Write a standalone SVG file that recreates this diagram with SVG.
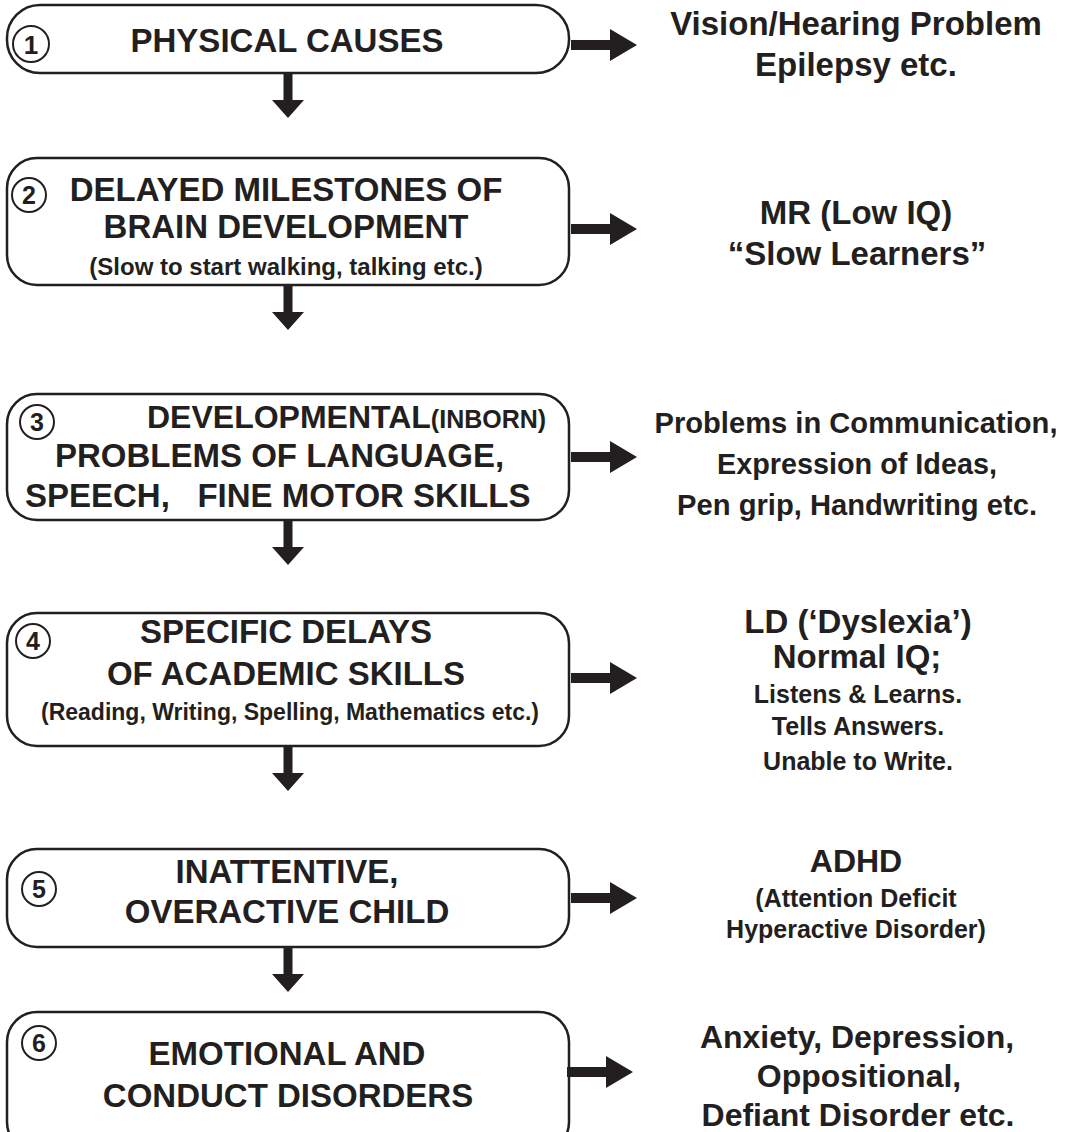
<svg xmlns="http://www.w3.org/2000/svg" width="1070" height="1132" viewBox="0 0 1070 1132">
<style>
.box{fill:#fff;stroke:#231f20;stroke-width:2.5}
.num{fill:none;stroke:#231f20;stroke-width:2}
.t{font-family:"Liberation Sans",Arial,sans-serif;font-weight:bold;fill:#231f20}
.c{text-anchor:middle}
.arr{fill:#231f20}
</style>
<defs>
<path id="ra" d="M0,-5 H39 V-16 L66,0 L39,16 V5 H0 Z"/>
<path id="da" d="M-4.5,0 H4.5 V27 H16 L0,45 L-16,27 H-4.5 Z"/>
</defs>
<g id="node1">
<rect class="box" x="7" y="5" width="562" height="68" rx="33"/>
<circle class="num" cx="31" cy="44" r="18"/>
<text class="t c" x="31" y="53.5" font-size="26">1</text>
<text class="t c" x="287" y="52" font-size="33">PHYSICAL CAUSES</text>
</g>
<g id="node2">
<rect class="box" x="7" y="158" width="562" height="127" rx="30"/>
<circle class="num" cx="29" cy="195" r="17"/>
<text class="t c" x="29" y="204" font-size="25">2</text>
<text class="t c" x="286" y="201" font-size="33">DELAYED MILESTONES OF</text>
<text class="t c" x="286" y="238" font-size="33">BRAIN DEVELOPMENT</text>
<text class="t c" x="286" y="275" font-size="24">(Slow to start walking, talking etc.)</text>
</g>
<g id="node3">
<rect class="box" x="7" y="394" width="562" height="126" rx="30"/>
<circle class="num" cx="37" cy="422" r="17"/>
<text class="t c" x="37" y="431" font-size="25">3</text>
<text class="t" x="147" y="428" font-size="32">DEVELOPMENTAL<tspan font-size="25">(INBORN)</tspan></text>
<text class="t" x="55" y="467" font-size="33">PROBLEMS OF LANGUAGE,</text>
<text class="t" x="25" y="507" font-size="33" xml:space="preserve">SPEECH,   FINE MOTOR SKILLS</text>
</g>
<g id="node4">
<rect class="box" x="7" y="613" width="562" height="133" rx="30"/>
<circle class="num" cx="33" cy="641" r="17"/>
<text class="t c" x="33" y="650" font-size="25">4</text>
<text class="t c" x="286" y="643" font-size="33">SPECIFIC DELAYS</text>
<text class="t c" x="286" y="685" font-size="33">OF ACADEMIC SKILLS</text>
<text class="t c" x="290" y="720" font-size="23">(Reading, Writing, Spelling, Mathematics etc.)</text>
</g>
<g id="node5">
<rect class="box" x="7" y="849" width="562" height="98" rx="30"/>
<circle class="num" cx="39" cy="889" r="17"/>
<text class="t c" x="39" y="898" font-size="25">5</text>
<text class="t c" x="287" y="883" font-size="33">INATTENTIVE,</text>
<text class="t c" x="287" y="923" font-size="33">OVERACTIVE CHILD</text>
</g>
<g id="node6">
<rect class="box" x="7" y="1012" width="562" height="140" rx="30"/>
<circle class="num" cx="39" cy="1043" r="17"/>
<text class="t c" x="39" y="1052" font-size="25">6</text>
<text class="t c" x="287" y="1065" font-size="33">EMOTIONAL AND</text>
<text class="t c" x="288" y="1107" font-size="33">CONDUCT DISORDERS</text>
</g>
<g id="out1">
<text class="t c" x="856" y="35" font-size="33">Vision/Hearing Problem</text>
<text class="t c" x="856" y="76" font-size="33">Epilepsy etc.</text>
</g>
<g id="out2">
<text class="t c" x="856" y="224" font-size="33">MR (Low IQ)</text>
<text class="t c" x="857" y="265" font-size="33">“Slow Learners”</text>
</g>
<g id="out3">
<text class="t c" x="856" y="433" font-size="30" textLength="403" lengthAdjust="spacingAndGlyphs">Problems in Communication,</text>
<text class="t c" x="857" y="474" font-size="30" textLength="280" lengthAdjust="spacingAndGlyphs">Expression of Ideas,</text>
<text class="t c" x="857" y="515" font-size="30" textLength="360" lengthAdjust="spacingAndGlyphs">Pen grip, Handwriting etc.</text>
</g>
<g id="out4">
<text class="t c" x="858" y="633" font-size="33">LD (‘Dyslexia’)</text>
<text class="t c" x="857" y="668" font-size="33">Normal IQ;</text>
<text class="t c" x="858" y="703" font-size="25">Listens &amp; Learns.</text>
<text class="t c" x="858" y="735" font-size="25">Tells Answers.</text>
<text class="t c" x="858" y="770" font-size="25">Unable to Write.</text>
</g>
<g id="out5">
<text class="t c" x="856" y="872" font-size="32">ADHD</text>
<text class="t c" x="856" y="907" font-size="25">(Attention Deficit</text>
<text class="t c" x="856" y="938" font-size="25">Hyperactive Disorder)</text>
</g>
<g id="out6">
<text class="t c" x="857" y="1048" font-size="32">Anxiety, Depression,</text>
<text class="t c" x="859" y="1087" font-size="32">Oppositional,</text>
<text class="t c" x="858" y="1126" font-size="32">Defiant Disorder etc.</text>
</g>
<g id="connectors" class="arr">
<use href="#ra" x="571" y="45"/>
<use href="#ra" x="571" y="229"/>
<use href="#ra" x="571" y="457"/>
<use href="#ra" x="571" y="678"/>
<use href="#ra" x="571" y="898"/>
<use href="#ra" x="567" y="1072"/>
<use href="#da" x="288" y="73"/>
<use href="#da" x="288" y="285"/>
<use href="#da" x="288" y="520"/>
<use href="#da" x="288" y="746"/>
<use href="#da" x="288" y="947"/>
</g>
</svg>
